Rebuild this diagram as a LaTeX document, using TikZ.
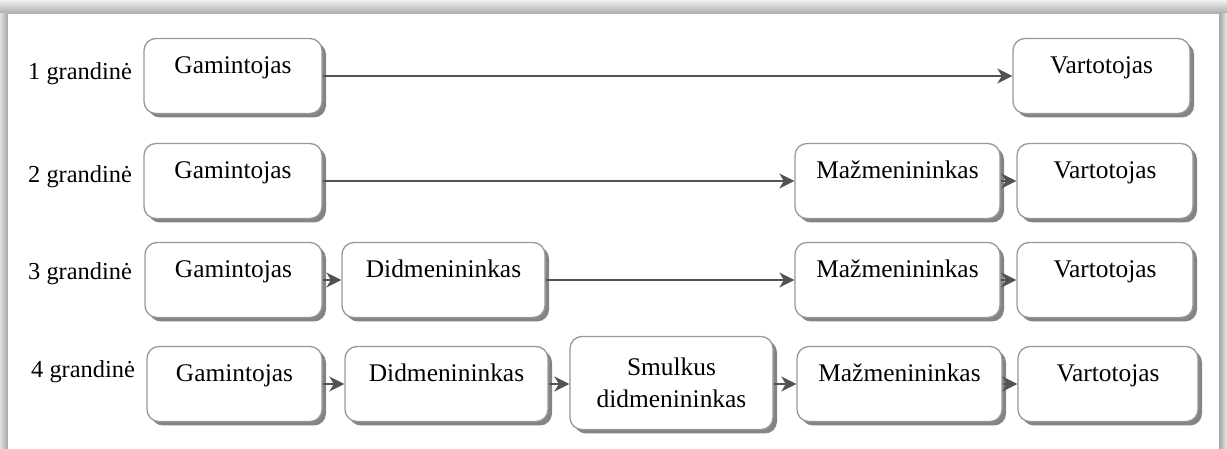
\documentclass[tikz,border=0pt]{standalone}
\usepackage{fontspec}
\setmainfont{Liberation Serif}
\usetikzlibrary{shadows,arrows.meta}
\begin{document}
\begin{tikzpicture}[x=1bp,y=-1bp,
  box/.style={draw=black!40, line width=1.3bp, rounded corners=12bp, fill=white,
    drop shadow={shadow xshift=4bp, shadow yshift=-4bp, fill=black!60, opacity=0.8},
    inner sep=0pt, font=\fontsize{25.5}{32}\selectfont},
  topbox/.style={box, text height=35bp, text depth=40bp},
  midbox/.style={box, align=center, minimum height=93bp},
  lab/.style={font=\fontsize{24.5}{30}\selectfont, inner sep=0pt, anchor=base west},
  conn/.style={draw=black!68, line width=1.8bp, -{Stealth[length=15bp,width=15bp,inset=4.5bp]}}
]
\useasboundingbox (0,0) rectangle (1227,449);
% frame
\fill[black!12] (0,0) rectangle (1227,449);
\shade[top color=black!6, bottom color=black!33] (0,0) rectangle (1227,14);
\shade[left color=black!12, right color=black!35] (0,14) rectangle (8,449);
\shade[left color=black!35, right color=black!8] (1219,14) rectangle (1227,449);
\fill[white] (8,14) rectangle (1219,449);

% row 1
\node[lab] (l1) at (28,80) {1 grandinė};
\node[topbox, minimum width=178bp] (g1) at (233,76) {Gamintojas};
\node[topbox, minimum width=177bp] (v1) at (1101.5,76) {Vartotojas};
\draw[conn] (g1.east) -- (v1.west);

% row 2
\node[lab] (l2) at (28,183) {2 grandinė};
\node[topbox, minimum width=178bp] (g2) at (233,181) {Gamintojas};
\node[topbox, minimum width=205bp] (m2) at (897.5,181) {Mažmenininkas};
\node[topbox, minimum width=176bp] (v2) at (1105,181) {Vartotojas};
\draw[conn] (g2.east) -- (m2.west);
\draw[conn] (m2.east) -- (v2.west);

% row 3
\node[lab] (l3) at (28,280) {3 grandinė};
\node[topbox, minimum width=177bp] (g3) at (233.5,280) {Gamintojas};
\node[topbox, minimum width=203bp] (d3) at (443.5,280) {Didmenininkas};
\node[topbox, minimum width=205bp] (m3) at (897.5,280) {Mažmenininkas};
\node[topbox, minimum width=176bp] (v3) at (1105,280) {Vartotojas};
\draw[conn] (g3.east) -- (d3.west);
\draw[conn] (d3.east) -- (m3.west);
\draw[conn] (m3.east) -- (v3.west);

% row 4
\node[lab] (l4) at (31,378) {4 grandinė};
\node[topbox, minimum width=175bp] (g4) at (234.5,384) {Gamintojas};
\node[topbox, minimum width=203bp] (d4) at (446.5,384) {Didmenininkas};
\node[midbox, minimum width=203bp] (s4) at (671.5,383) {Smulkus\\didmenininkas};
\node[topbox, minimum width=205bp] (m4) at (899.5,384) {Mažmenininkas};
\node[topbox, minimum width=180bp] (v4) at (1108,384) {Vartotojas};
\draw[conn] (g4.east) -- (d4.west);
\draw[conn] (d4.east) -- (s4.west |- d4.east);
\draw[conn] (s4.east |- m4.west) -- (m4.west);
\draw[conn] (m4.east) -- (v4.west);
\end{tikzpicture}
\end{document}
